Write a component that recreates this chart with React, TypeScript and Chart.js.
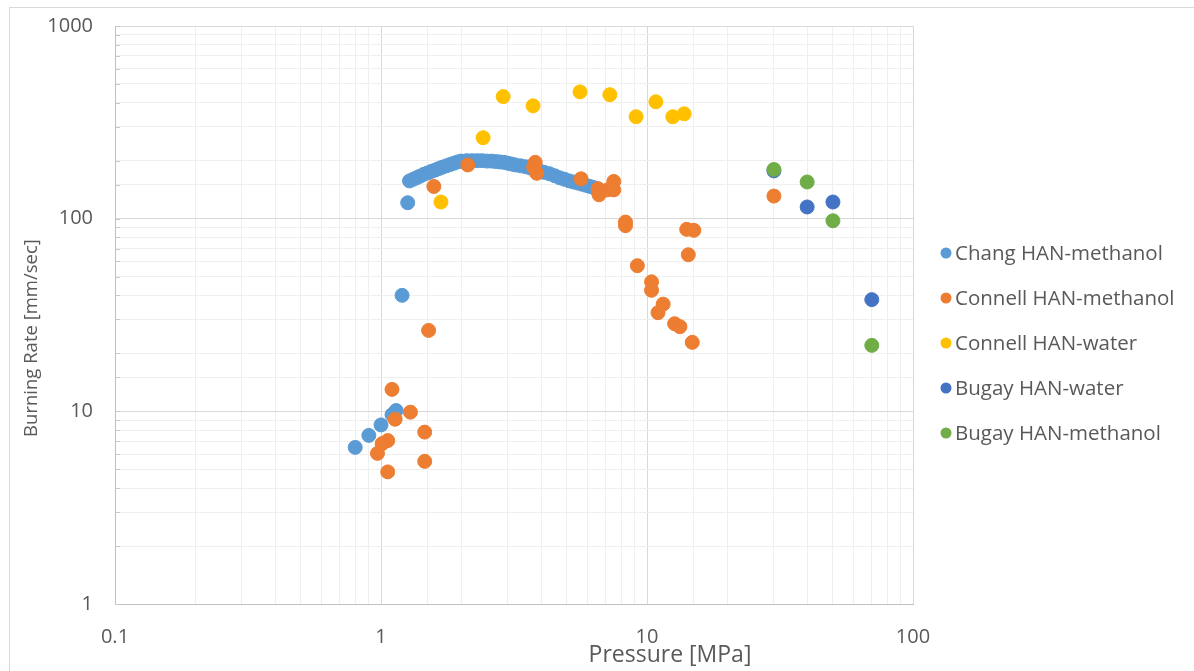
import React, { useEffect, useRef } from "react";
import { Chart, registerables } from "chart.js";

Chart.register(...registerables);

// Burning rate measurements: pressure in MPa, rate in mm/sec
const changPressure = [
  0.8, 0.9, 1.0, 1.1, 1.14, 1.2, 1.26,
  1.28, 1.32, 1.36, 1.4, 1.45, 1.5, 1.55, 1.6, 1.65, 1.7, 1.76, 1.82, 1.88, 1.94, 2.0,
  2.1, 2.2, 2.3, 2.4, 2.5, 2.6, 2.7, 2.8, 2.9, 3.0,
  3.1, 3.2, 3.35, 3.5, 3.65, 3.8, 3.95, 4.1, 4.3, 4.5,
  4.7, 4.9, 5.1, 5.3, 5.5, 5.7, 5.9, 6.1, 6.3, 6.5,
];
const changRate = [
  6.5, 7.5, 8.5, 9.6, 10.1, 40, 121,
  157, 160, 163, 166, 170, 173, 176, 179, 182, 185, 188, 191, 194, 197, 199,
  200, 200, 200, 200, 199, 199, 198, 197, 196, 194,
  192, 190, 188, 186, 183, 180, 177, 174, 171, 167,
  163, 160, 157, 155, 153, 151, 149, 147, 145, 143,
];

const connellMethPressure = [
  0.97, 1.01, 1.06, 1.06, 1.1, 1.13, 1.29, 1.46, 1.46, 1.51,
  1.58, 2.12, 3.75, 3.8, 3.85, 5.65, 6.55, 6.6, 7.1, 7.5,
  7.5, 8.3, 8.3, 9.2, 10.4, 10.4, 11.0, 11.5, 12.7, 13.3,
  14.1, 14.3, 14.8, 15.0, 30,
];
const connellMethRate = [
  6.05, 6.8, 7.05, 4.85, 13, 9.1, 9.9, 7.8, 5.5, 26.3,
  147, 190, 185, 196, 172, 161, 143, 133, 141, 156,
  141, 96, 92, 57, 47, 42.5, 32.5, 36, 28.5, 27.5,
  88, 65, 22.8, 87, 131,
];

const connellWaterPressure = [1.68, 2.42, 2.88, 3.73, 5.6, 7.25, 9.1, 10.8, 12.5, 13.8];
const connellWaterRate = [122, 263, 430, 385, 455, 440, 338, 404, 338, 350];

const bugayWaterPressure = [30, 40, 50, 70];
const bugayWaterRate = [177, 115, 122, 38];

const bugayMethPressure = [30, 40, 50, 70];
const bugayMethRate = [180, 155, 97.5, 22];

const seriesNames = [
  "Chang HAN-methanol",
  "Connell HAN-methanol",
  "Connell HAN-water",
  "Bugay HAN-water",
  "Bugay HAN-methanol",
];
const seriesColors = ["#5B9BD5", "#ED7D31", "#FFC000", "#4472C4", "#70AD47"];

const xTitle = "Pressure [MPa]";
const yTitle = "Burning Rate [mm/sec]";

const FONT = "'Open Sans', 'Noto Sans', sans-serif";
const TEXT = "#595959";

const zip = (xs: number[], ys: number[]) => xs.map((x, i) => ({ x, y: ys[i] }));

const isDecade = (v: number) => {
  const l = Math.log10(v);
  return Math.abs(l - Math.round(l)) < 1e-9;
};

const decadeLabel = (v: number) => (isDecade(v) ? String(Number(v.toPrecision(6))) : "");

// Draws the short inside tick marks, the axis titles and the legend
const decorations = {
  id: "decorations",
  beforeDatasetsDraw(chart: any) {
    const { ctx, chartArea, scales } = chart;
    ctx.save();
    ctx.strokeStyle = "#C8C8C8";
    ctx.lineWidth = 1;
    ctx.beginPath();
    for (const t of scales.y.ticks) {
      const py = Math.round(scales.y.getPixelForValue(t.value)) + 0.5;
      ctx.moveTo(chartArea.left, py);
      ctx.lineTo(chartArea.left + 5, py);
    }
    ctx.stroke();
    ctx.restore();
  },
  afterDraw(chart: any) {
    const { ctx, chartArea } = chart;
    ctx.save();
    ctx.fillStyle = TEXT;
    ctx.textBaseline = "middle";

    // axis titles
    ctx.font = `23px ${FONT}`;
    ctx.textAlign = "center";
    ctx.fillText(xTitle, 660, 647);
    ctx.save();
    ctx.translate(22, 330);
    ctx.rotate(-Math.PI / 2);
    ctx.font = `18.5px ${FONT}`;
    ctx.fillText(yTitle, 0, 0);
    ctx.restore();

    // legend
    ctx.font = `20.5px ${FONT}`;
    ctx.textAlign = "left";
    chart.data.datasets.forEach((ds: any, i: number) => {
      const cy = chartArea.top + 227 + i * 45;
      ctx.beginPath();
      ctx.fillStyle = ds.backgroundColor;
      ctx.arc(chartArea.right + 33, cy, 5.5, 0, Math.PI * 2);
      ctx.fill();
      ctx.fillStyle = TEXT;
      ctx.fillText(ds.label, chartArea.right + 42, cy + 1);
    });
    ctx.restore();
  },
};

export default function App() {
  const canvasRef = useRef<HTMLCanvasElement | null>(null);

  useEffect(() => {
    if (!canvasRef.current) return;
    const series = [
      zip(changPressure, changRate),
      zip(connellMethPressure, connellMethRate),
      zip(connellWaterPressure, connellWaterRate),
      zip(bugayWaterPressure, bugayWaterRate),
      zip(bugayMethPressure, bugayMethRate),
    ];
    const gridColor = (c: any) =>
      c.tick && isDecade(c.tick.value) ? "#D9D9D9" : "#EFEFEF";

    const chart = new Chart(canvasRef.current, {
      type: "scatter",
      data: {
        datasets: series.map((data, i) => ({
          label: seriesNames[i],
          data,
          backgroundColor: seriesColors[i],
          borderColor: seriesColors[i],
          pointRadius: 7,
          pointBorderWidth: 1,
          showLine: false,
          // later series are painted over earlier ones
          order: series.length - i,
        })),
      },
      options: {
        animation: false,
        responsive: false,
        layout: { padding: { top: 18, right: 281, left: 0, bottom: 0 } },
        plugins: {
          legend: { display: false },
          tooltip: { enabled: false },
        },
        scales: {
          x: {
            type: "logarithmic",
            min: 0.1,
            max: 100,
            position: "bottom",
            grid: { color: gridColor, drawTicks: false },
            border: { color: "#BFBFBF" },
            ticks: {
              autoSkip: false,
              maxRotation: 0,
              padding: 21,
              color: TEXT,
              font: { family: FONT, size: 20 },
              callback: (v: any) => decadeLabel(Number(v)),
            },
            afterFit: (s: any) => {
              s.height = 67;
              s.paddingLeft = 0;
              s.paddingRight = 0;
            },
          },
          y: {
            type: "logarithmic",
            min: 1,
            max: 1000,
            grid: { color: gridColor, drawTicks: false },
            border: { color: "#BFBFBF" },
            ticks: {
              autoSkip: false,
              padding: 22,
              color: TEXT,
              font: { family: FONT, size: 20 },
              callback: (v: any) => decadeLabel(Number(v)),
            },
            afterFit: (s: any) => {
              s.width = 105;
              s.paddingTop = 0;
              s.paddingBottom = 0;
            },
          },
        },
      },
      plugins: [decorations],
    });
    return () => chart.destroy();
  }, []);

  return (
    <div
      style={{
        position: "absolute",
        left: 9,
        top: 7,
        width: 1185,
        height: 664,
        boxSizing: "border-box",
        borderLeft: "1px solid #D9D9D9",
        borderTop: "1px solid #D9D9D9",
        background: "#fff",
      }}
    >
      <canvas ref={canvasRef} width={1184} height={663} style={{ display: "block" }} />
    </div>
  );
}
